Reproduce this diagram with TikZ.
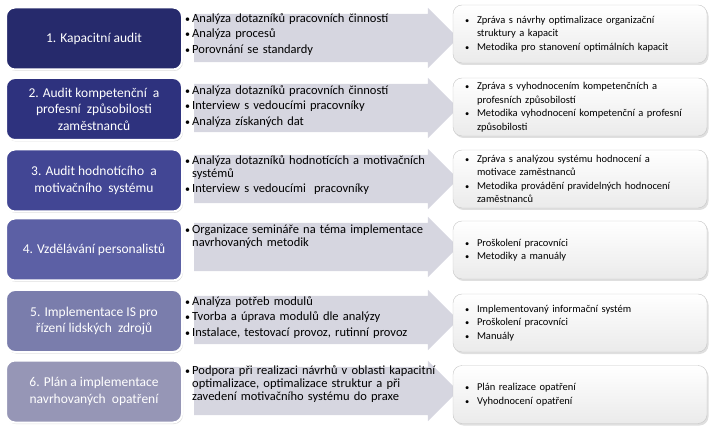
\documentclass[tikz,border=0pt]{standalone}
\usepackage{fontspec}
\setmainfont{Carlito}
\usetikzlibrary{shapes.arrows, shadows, positioning}

\definecolor{phaseA}{RGB}{38,42,108}
\definecolor{phaseB}{RGB}{46,50,126}
\definecolor{phaseC}{RGB}{66,70,148}
\definecolor{phaseD}{RGB}{92,96,165}
\definecolor{phaseE}{RGB}{122,125,172}
\definecolor{phaseF}{RGB}{150,150,182}
\definecolor{bandgray}{RGB}{214,214,224}

\hyphenpenalty=10000
% bullet line with hanging indent
\newcommand{\itm}[2]{\hangindent=#1\hangafter=1\noindent\makebox[#1][l]{\scalebox{0.8}{\textbullet}}#2\par}

\begin{document}
\begin{tikzpicture}[
    x=1pt, y=-1pt,
    phase/.style={draw=white, line width=2pt, rounded corners=9pt, align=center,
                  text=white, minimum width=176pt, minimum height=62pt,
                  font=\fontsize{13.5}{16.5}\selectfont,
                  drop shadow={opacity=0.25, shadow xshift=1pt, shadow yshift=-1.5pt}},
    band/.style={single arrow, fill=bandgray, minimum height=264pt,
                 single arrow head extend=6pt, inner xsep=0pt, inner ysep=24pt},
    act/.style={anchor=north west, inner sep=0pt, text width=300pt, align=left,
                font=\fontsize{12.5}{13}\selectfont\setlength{\parskip}{2.5pt}},
    result/.style={draw=gray!45, rounded corners=9pt, top color=white, bottom color=gray!16,
                minimum width=254pt, minimum height=58pt, text width=230pt,
                inner xsep=12pt, align=left, font=\fontsize{10.5}{13.5}\selectfont,
                drop shadow={opacity=0.25, shadow xshift=1.5pt, shadow yshift=-2pt}},
]
\useasboundingbox (0,0) rectangle (714,435);

% gray arrows behind the phase boxes
\node[band] (arr1) at (314,38)  {};
\node[band] (arr2) at (314,108) {};
\node[band] (arr3) at (314,179) {};
\node[band] (arr4) at (314,247) {};
\node[band] (arr5) at (314,320) {};
\node[band] (arr6) at (314,391) {};

% phases (left column)
\node[phase, fill=phaseA] (ph1) at (94,38.5)  {1. Kapacitní audit};
\node[phase, fill=phaseB] (ph2) at (94,109)   {2. Audit kompetenční\ \ a\\profesní\ \ způsobilosti\\zaměstnanců};
\node[phase, fill=phaseC] (ph3) at (94,180.5) {3. Audit hodnotícího\ \ a\\motivačního\ \ systému};
\node[phase, fill=phaseD] (ph4) at (94,249.5) {4. Vzdělávání personalistů};
\node[phase, fill=phaseE] (ph5) at (94,321)   {5. Implementace IS pro\\řízení lidských\ \ zdrojů};
\node[phase, fill=phaseF] (ph6) at (94,391.5) {6. Plán a implementace\\navrhovaných\ \ opatření};

% activities on the arrows
\node[act] (act1) at (185,13)  {\itm{7pt}{Analýza dotazníků pracovních činností}
  \itm{7pt}{Analýza procesů}\itm{7pt}{Porovnání se standardy}};
\node[act] (act2) at (185,85)  {\itm{7pt}{Analýza dotazníků pracovních činností}
  \itm{7pt}{Interview s vedoucími pracovníky}\itm{7pt}{Analýza získaných dat}};
\node[act] (act3) at (185,155) {\itm{7pt}{Analýza dotazníků hodnotících a motivačních\newline systémů}
  \itm{7pt}{Interview s vedoucími\ \ pracovníky}};
\node[act] (act4) at (185,225) {\itm{7pt}{Organizace semináře na téma implementace\newline navrhovaných metodik}};
\node[act] (act5) at (185,296) {\itm{7pt}{Analýza potřeb modulů}
  \itm{7pt}{Tvorba a úprava modulů dle analýzy}\itm{7pt}{Instalace, testovací provoz, rutinní provoz}};
\node[act] (act6) at (185,365) {\itm{7pt}{Podpora při realizaci návrhů v oblasti kapacitní\newline optimalizace, optimalizace struktur a při\newline zavedení motivačního systému do praxe}};

% outputs (right column)
\node[result] (res1) at (580,34)    {\itm{12pt}{Zpráva s návrhy optimalizace organizační\newline struktury a kapacit}
  \itm{12pt}{Metodika pro stanovení optimálních kapacit}};
\node[result] (res2) at (580,107)   {\itm{12pt}{Zpráva s vyhodnocením kompetenčních a\newline profesních způsobilostí}
  \itm{12pt}{Metodika vyhodnocení kompetenční a profesní\newline způsobilosti}};
\node[result] (res3) at (580,179)   {\itm{12pt}{Zpráva s analýzou systému hodnocení a\newline motivace zaměstnanců}
  \itm{12pt}{Metodika provádění pravidelných hodnocení\newline zaměstnanců}};
\node[result] (res4) at (580,250)   {\itm{12pt}{Proškolení pracovníci}\itm{12pt}{Metodiky a manuály}};
\node[result] (res5) at (580,323)   {\itm{12pt}{Implementovaný informační systém}
  \itm{12pt}{Proškolení pracovníci}\itm{12pt}{Manuály}};
\node[result] (res6) at (580,394.5) {\itm{12pt}{Plán realizace opatření}\itm{12pt}{Vyhodnocení opatření}};
\end{tikzpicture}
\end{document}
